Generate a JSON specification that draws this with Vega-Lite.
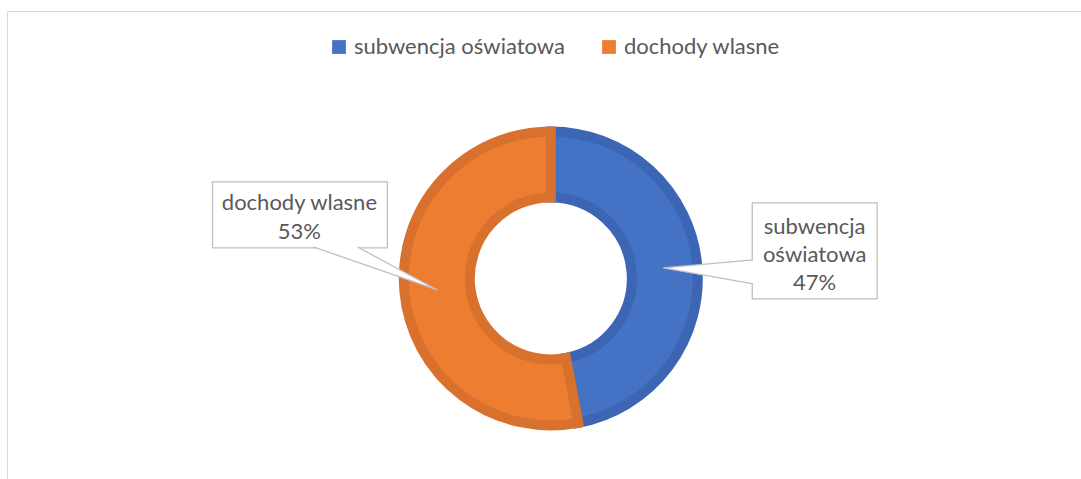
{
  "$schema": "https://vega.github.io/schema/vega-lite/v6.json",
  "width": 1081,
  "height": 479,
  "autosize": {"type": "fit", "contains": "padding"},
  "padding": {"left": 7, "top": 11, "right": -3, "bottom": -3},
  "background": "white",
  "config": {
    "view": {"stroke": "#D9D9D9", "strokeWidth": 1},
    "font": "Lato"
  },
  "datasets": {
    "udzialy": [
      {"kategoria": "subwencja oświatowa", "procent": 47},
      {"kategoria": "dochody wlasne", "procent": 53}
    ],
    "ramki": [
      {"etykieta": "dochody wlasne", "x1": -222.7, "x2": -107.6, "y1": 63.5, "y2": 20.1},
      {"etykieta": "subwencja oświatowa", "x1": 132.6, "x2": 214.8, "y1": 49.7, "y2": -13.5}
    ],
    "wskazniki": [
      {"etykieta": "dochody wlasne", "kolej": 1, "x": -156.3, "y": 20.7},
      {"etykieta": "dochody wlasne", "kolej": 2, "x": -74.7, "y": -7.6},
      {"etykieta": "dochody wlasne", "kolej": 3, "x": -127.3, "y": 20.7},
      {"etykieta": "subwencja oświatowa", "kolej": 1, "x": 133.2, "y": 12.2},
      {"etykieta": "subwencja oświatowa", "kolej": 2, "x": 74.0, "y": 6.9},
      {"etykieta": "subwencja oświatowa", "kolej": 3, "x": 133.2, "y": -3.6}
    ],
    "teksty": [
      {"tekst": "dochody wlasne", "x": -165.5, "y": 49.7},
      {"tekst": "53%", "x": -165.5, "y": 30.8},
      {"tekst": "subwencja", "x": 173.7, "y": 34.1},
      {"tekst": "oświatowa", "x": 173.7, "y": 15.5},
      {"tekst": "47%", "x": 173.7, "y": -3.2}
    ]
  },
  "layer": [
    {
      "data": {"name": "udzialy"},
      "mark": {"type": "arc", "outerRadius": 147, "innerRadius": 81, "strokeWidth": 10, "strokeJoin": "miter"},
      "encoding": {
        "x": {"datum": 0, "type": "quantitative", "scale": {"domain": [-358, 351], "nice": false, "zero": false}, "axis": null},
        "y": {"datum": 0, "type": "quantitative", "scale": {"domain": [-134, 176], "nice": false, "zero": false}, "axis": null},
        "theta": {"field": "procent", "type": "quantitative", "stack": true},
        "order": {"field": "kategoria", "sort": "descending"},
        "color": {
          "field": "kategoria",
          "type": "nominal",
          "scale": {"domain": ["subwencja oświatowa", "dochody wlasne"], "range": ["#4472C4", "#ED7D31"]},
          "legend": {
            "orient": "none",
            "legendX": 321,
            "legendY": 25,
            "direction": "horizontal",
            "title": null,
            "symbolType": "square",
            "symbolSize": 190,
            "symbolStrokeWidth": 0,
            "symbolOpacity": 1,
            "labelFont": "Lato",
            "labelFontSize": 22,
            "labelColor": "#595959",
            "labelLimit": 0,
            "labelOffset": 4,
            "columnPadding": 33,
            "padding": 0
          }
        },
        "stroke": {
          "field": "kategoria",
          "type": "nominal",
          "scale": {"domain": ["subwencja oświatowa", "dochody wlasne"], "range": ["#3C66B4", "#D8712D"]},
          "legend": null
        }
      }
    },
    {
      "data": {"name": "ramki"},
      "mark": {"type": "rect", "fill": "white", "stroke": "#BFBFBF", "strokeWidth": 1.3},
      "encoding": {
        "x": {"field": "x1", "type": "quantitative"},
        "x2": {"field": "x2"},
        "y": {"field": "y1", "type": "quantitative"},
        "y2": {"field": "y2"}
      }
    },
    {
      "data": {"name": "wskazniki"},
      "mark": {"type": "line", "fill": "white", "stroke": "#BFBFBF", "strokeWidth": 1.3, "interpolate": "linear"},
      "encoding": {
        "x": {"field": "x", "type": "quantitative"},
        "y": {"field": "y", "type": "quantitative"},
        "order": {"field": "kolej", "type": "quantitative"},
        "detail": {"field": "etykieta", "type": "nominal"}
      }
    },
    {
      "data": {"name": "teksty"},
      "mark": {"type": "text", "font": "Lato", "fontSize": 22, "color": "#595959", "align": "center", "baseline": "middle"},
      "encoding": {
        "x": {"field": "x", "type": "quantitative"},
        "y": {"field": "y", "type": "quantitative"},
        "text": {"field": "tekst", "type": "nominal"}
      }
    }
  ]
}
